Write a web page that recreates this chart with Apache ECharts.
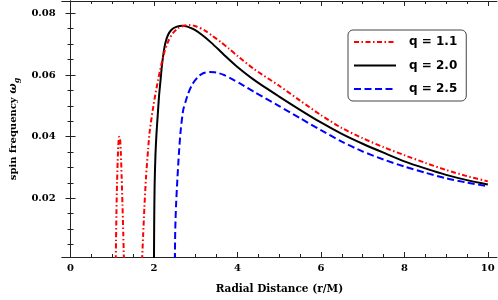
<!DOCTYPE html>
<html>
<head>
<meta charset="utf-8">
<script src="https://cdn.jsdelivr.net/npm/echarts@6/dist/echarts.min.js"></script>
<style>html,body{margin:0;padding:0;background:#fff}#c{width:498px;height:300px}</style>
</head>
<body>
<div id="c"></div>
<script>
var xMajor = [0, 2, 4, 6, 8, 10];
var xMinor = [0.5, 1, 1.5, 2.5, 3, 3.5, 4.5, 5, 5.5, 6.5, 7, 7.5, 8.5, 9, 9.5];
var yMajor = [0.02, 0.04, 0.06, 0.08];
var yMinor = [0.005, 0.01, 0.015, 0.025, 0.03, 0.035, 0.045, 0.05, 0.055, 0.065, 0.07, 0.075];
var legendNames = ['q = 1.1', 'q = 2.0', 'q = 2.5'];

var redLobe = [[1.085,0],[1.09,0.006],[1.10,0.015],[1.115,0.025],[1.13,0.032],[1.145,0.037],[1.165,0.0400],[1.185,0.0395],[1.205,0.035],[1.225,0.027],[1.245,0.018],[1.265,0.008],[1.28,0]];
var redMain = [[1.715,0],[1.74,0.008],[1.77,0.017],[1.81,0.027],[1.86,0.036],[1.9,0.042],[1.97,0.0486],[2.03,0.0535],[2.1,0.0585],[2.17,0.0630],[2.25,0.0675],[2.35,0.0712],[2.45,0.0735],[2.58,0.0752],[2.72,0.0760],[2.86,0.0762],[3.0,0.0758],[3.21,0.0745],[3.4,0.0727],[3.6,0.0707],[3.8,0.0685],[4.0,0.0662],[4.39,0.0620],[5.0,0.0565],[5.5,0.0517],[6.0,0.0470],[6.5,0.0428],[7.0,0.0395],[7.5,0.0366],[8.0,0.0340],[8.5,0.0315],[9.0,0.0292],[9.5,0.0272],[10.0,0.0255]];
var black = [[2.0,0],[2.005,0.012],[2.015,0.024],[2.035,0.034],[2.06,0.041],[2.09,0.047],[2.12,0.053],[2.155,0.058],[2.19,0.063],[2.23,0.0672],[2.27,0.0702],[2.33,0.0728],[2.42,0.0747],[2.55,0.0757],[2.68,0.0760],[2.8,0.0757],[2.97,0.0747],[3.17,0.0728],[3.37,0.0705],[3.56,0.0681],[3.76,0.0655],[4.0,0.0626],[4.39,0.0585],[5.0,0.0530],[5.5,0.0487],[6.0,0.0446],[6.5,0.0409],[7.0,0.0377],[7.5,0.0348],[8.0,0.0320],[8.5,0.0297],[9.0,0.0276],[9.5,0.0259],[10.0,0.0245]];
var blue = [[2.5,0],[2.51,0.01],[2.53,0.018],[2.56,0.026],[2.6,0.035],[2.64,0.042],[2.7,0.0486],[2.76,0.0515],[2.82,0.054],[2.9,0.0565],[2.97,0.058],[3.05,0.0593],[3.13,0.0602],[3.23,0.0608],[3.33,0.0610],[3.45,0.0609],[3.55,0.0606],[3.68,0.0600],[3.85,0.0588],[4.08,0.0571],[4.39,0.0546],[5.0,0.0499],[5.5,0.0460],[6.0,0.0421],[6.5,0.0384],[7.0,0.0352],[7.5,0.0326],[8.0,0.0303],[8.5,0.0283],[9.0,0.0265],[9.5,0.0251],[10.0,0.0239]];

var redData = redLobe.concat([[1.5, '-']], redMain);

var chart = echarts.init(document.getElementById('c'), null, {renderer: 'canvas'});
var XMIN = -0.21, XMAX = 10.22, YMIN = 0.00097, YMAX = 0.0840;
var frame = {show: true, lineStyle: {color: '#222', width: 1}};
var serif = {fontFamily: 'DejaVu Serif', fontWeight: 'bold', fontSize: 10, color: '#000'};
function ax(pos, ticks, len, labels, line) {
  var isY = (pos === 'left' || pos === 'right');
  return {
    type: 'value', position: pos, min: isY ? YMIN : XMIN, max: isY ? YMAX : XMAX,
    axisLine: line ? frame : {show: false},
    axisTick: {show: true, inside: true, length: len, customValues: ticks, lineStyle: {color: '#222', width: 1}},
    axisLabel: labels ? Object.assign({show: true, customValues: ticks, margin: 6,
      formatter: function (v) { return isY ? v.toFixed(2) : String(Math.round(v)); }}, serif) : {show: false},
    splitLine: {show: false}
  };
}
var x0 = ax('bottom', xMajor, 5, true, true);
x0.name = 'Radial Distance (r/M)';
x0.nameLocation = 'middle';
x0.nameGap = 27;
x0.nameTextStyle = {fontFamily: 'DejaVu Serif', fontWeight: 'bold', fontSize: 10.5, color: '#000'};
var y0 = ax('left', yMajor, 5, true, true);
y0.name = '{a|spin frequency }{b|ω}{c|g}';
y0.nameLocation = 'middle';
y0.nameGap = 38;
y0.nameRotate = 90;
y0.nameTextStyle = {
  rich: {
    a: {fontFamily: 'DejaVu Serif', fontWeight: 'bold', fontSize: 10, color: '#000'},
    b: {fontFamily: 'DejaVu Serif', fontStyle: 'italic', fontWeight: 'bold', fontSize: 11, color: '#000'},
    c: {fontFamily: 'DejaVu Serif', fontStyle: 'italic', fontWeight: 'bold', fontSize: 8, color: '#000', verticalAlign: 'bottom', padding: [6, 0, 0, 0]}
  }
};

var common = {type: 'line', symbol: 'circle', symbolSize: 1, showSymbol: false, smooth: 0.25, clip: true, connectNulls: false};
var option = {
  animation: false,
  backgroundColor: '#fff',
  grid: {left: 55, right: 1, top: 1, bottom: 43, containLabel: false},
  xAxis: [x0, ax('bottom', xMinor, 3, false, false), ax('top', xMajor, 5, false, true), ax('top', xMinor, 3, false, false)],
  yAxis: [y0, ax('left', yMinor, 3, false, false), ax('right', yMajor, 5, false, true), ax('right', yMinor, 3, false, false)],
  legend: {
    data: legendNames,
    orient: 'vertical',
    left: 348, top: 30,
    itemWidth: 42, itemHeight: 14, itemGap: 11.5,
    padding: [6, 9, 6, 5],
    borderColor: '#444', borderWidth: 1, borderRadius: 5,
    backgroundColor: '#fff',
    itemStyle: {opacity: 0},
    textStyle: {fontFamily: 'DejaVu Sans', fontWeight: 'bold', fontSize: 12, color: '#000', padding: [0, 0, 0, 8]}
  },
  series: [
    Object.assign({name: legendNames[0], data: redData, z: 3,
      lineStyle: {color: '#ff0000', width: 2, type: [5, 2.5, 1.5, 2.5]}, itemStyle: {color: '#ff0000'}}, common),
    Object.assign({name: legendNames[1], data: black, z: 2,
      lineStyle: {color: '#000', width: 2, type: 'solid'}, itemStyle: {color: '#000'}}, common),
    Object.assign({name: legendNames[2], data: blue, z: 1,
      lineStyle: {color: '#0000ff', width: 2, type: [7, 3.5]}, itemStyle: {color: '#0000ff'}}, common)
  ]
};
chart.setOption(option);
</script>
</body>
</html>
